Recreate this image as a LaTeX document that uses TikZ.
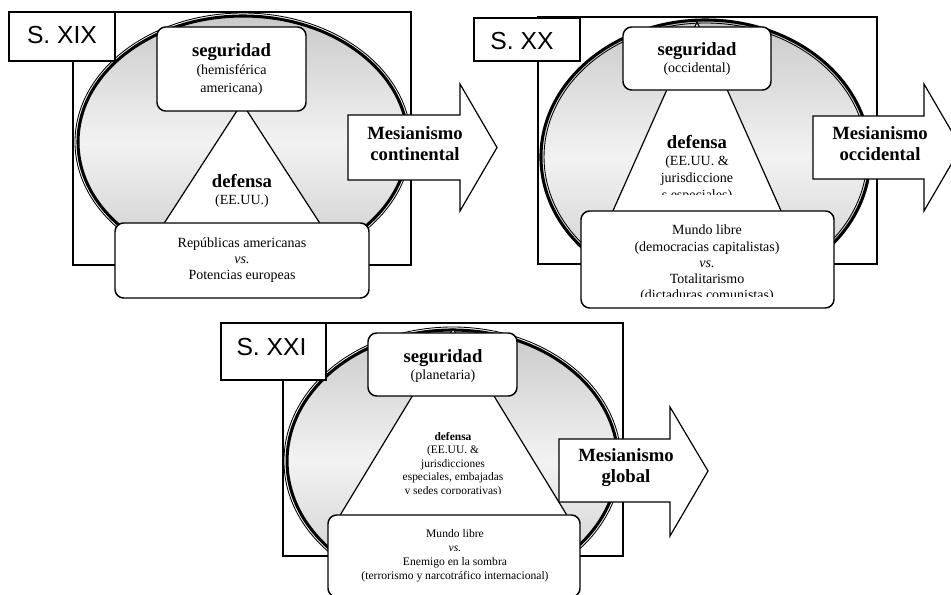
\documentclass[tikz,border=0pt]{standalone}
\usepackage{fontspec}
\setmainfont{Liberation Serif}
\newfontfamily\labelfont{Liberation Sans}
\definecolor{grA}{gray}{0.79}
\definecolor{grB}{gray}{0.95}
\begin{document}
\begin{tikzpicture}[x=0.75pt,y=-0.75pt,
  frame/.style={draw, line width=0.8pt},
  ringthick/.style={draw, line width=2.3pt},
  ringthin/.style={draw, line width=0.65pt},
  tri/.style={draw, fill=white, line width=0.9pt},
  rbox/.style={draw, fill=white, line width=1.1pt, rounded corners=6.5pt},
  lblbox/.style={draw, fill=white, line width=0.9pt},
  arrowshape/.style={draw, fill=white, line width=0.9pt, line join=miter},
  lbltext/.style={inner sep=0pt, font=\labelfont\fontsize{18.5}{20}\selectfont},
  segtext/.style={inner sep=0pt, align=center, font=\fontsize{10.5}{13.2}\selectfont},
  deftext/.style={inner sep=0pt, align=center, font=\fontsize{10.5}{12.6}\selectfont},
  lowtext/.style={inner sep=0pt, align=center, font=\fontsize{10.5}{12.2}\selectfont},
  smalltext/.style={inner sep=0pt, align=center, font=\fontsize{8.6}{10.2}\selectfont},
  arrtext/.style={inner sep=0pt, align=center, font=\fontsize{14}{15.8}\selectfont\bfseries}
]
\useasboundingbox (0,0) rectangle (951,595);
\clip (0,0) rectangle (951,595);

% ================= Panel 1: S. XIX =================
\draw[frame] (73,12) rectangle (411,265);
\shade[top color=grA, bottom color=grA, middle color=grB] (243,142) ellipse [x radius=123.75pt, y radius=94.5pt];
\draw[ringthick] (243,142) ellipse [x radius=123.75pt, y radius=94.5pt];
\draw[ringthin] (243,142) ellipse [x radius=126pt, y radius=96.75pt];
\draw[tri] (242,103) -- (163,225) -- (321,225) -- cycle;
\node[deftext] (def1) at (242,191) {{\fontsize{14}{12.6}\selectfont\bfseries defensa}\\(EE.UU.)};
\draw[rbox] (157,27) rectangle (306,111);
\node[segtext] (seg1) at (231.5,69.5) {{\fontsize{14}{13.2}\selectfont\bfseries seguridad}\\(hemisférica\\americana)};
\draw[rbox] (115,223) rectangle (369,298);
\node[lowtext] (low1) at (242,260) {Repúblicas americanas\\\textit{vs.}\\Potencias europeas};
\draw[lblbox] (9,12) rectangle (115,61);
\node[lbltext] (lab1) at (62,35.5) {S. XIX};
\draw[arrowshape] (348,115) -- (460,115) -- (460,84) -- (497,147.5) -- (460,211) -- (460,180) -- (348,180) -- cycle;
\node[arrtext] (arr1) at (415,143.5) {Mesianismo\\continental};

% ================= Panel 2: S. XX =================
\draw[frame] (538,17) rectangle (877,264);
\shade[top color=grA, bottom color=grA, middle color=grB] (705.5,157) ellipse [x radius=123.4pt, y radius=102.75pt];
\draw[ringthick] (705.5,157) ellipse [x radius=123.4pt, y radius=102.75pt];
\draw[ringthin] (705.5,157) ellipse [x radius=121.1pt, y radius=100.5pt];
\draw[tri] (697,22) -- (612,213) -- (782,213) -- cycle;
\begin{scope}
  \clip (600,120) rectangle (800,195);
  \node[deftext] (def2) at (697,169) {{\fontsize{14}{12.6}\selectfont\bfseries defensa}\\(EE.UU. \&\\jurisdiccione\\s especiales)};
\end{scope}
\draw[rbox] (623,27) rectangle (771,90);
\node[segtext] (seg2) at (697,59) {{\fontsize{14}{13.5}\selectfont\bfseries seguridad}\\(occidental)};
\draw[rbox] (581,211) rectangle (834,308);
\begin{scope}
  \clip (585,215) rectangle (830,297);
  \node[lowtext] (low2) at (707,264) {Mundo libre\\(democracias capitalistas)\\\textit{vs.}\\Totalitarismo\\(dictaduras comunistas)};
\end{scope}
\draw[lblbox] (474,18) rectangle (580,61);
\node[lbltext] (lab2) at (522,41) {S. XX};
\draw[arrowshape] (813,116) -- (924,116) -- (924,84) -- (961,147.5) -- (924,211) -- (924,179) -- (813,179) -- cycle;
\node[arrtext] (arr2) at (880,143.5) {Mesianismo\\occidental};

% ================= Panel 3: S. XXI =================
\draw[frame] (283,323) rectangle (623,556);
\shade[top color=grA, bottom color=grA, middle color=grB] (452.5,461) ellipse [x radius=124.1pt, y radius=98.25pt];
\draw[ringthick] (452.5,461) ellipse [x radius=124.1pt, y radius=98.25pt];
\draw[ringthin] (452.5,461) ellipse [x radius=126.4pt, y radius=100.5pt];
\draw[tri] (453,329) -- (339,517) -- (568,517) -- cycle;
\begin{scope}
  \clip (360,420) rectangle (550,494);
  \node[smalltext] (def3) at (453,464.5) {\textbf{defensa}\\(EE.UU. \&\\jurisdicciones\\especiales, embajadas\\y sedes corporativas)};
\end{scope}
\draw[rbox] (368,333) rectangle (517,396);
\node[segtext] (seg3) at (443,366) {{\fontsize{14}{14.2}\selectfont\bfseries seguridad}\\(planetaria)};
\draw[rbox] (328,515) rectangle (580,597);
\node[smalltext, font=\fontsize{8.7}{10.5}\selectfont] (low3) at (455,555.5) {Mundo libre\\\textit{vs.}\\Enemigo en la sombra\\(terrorismo y narcotráfico internacional)};
\draw[lblbox] (221,323) rectangle (326,380);
\node[lbltext] (lab3) at (271.5,347) {S. XXI};
\draw[arrowshape] (559,439) -- (670,439) -- (670,407) -- (708,471) -- (670,536) -- (670,502) -- (559,502) -- cycle;
\node[arrtext] (arr3) at (626,467.5) {Mesianismo\\global};
\end{tikzpicture}
\end{document}
